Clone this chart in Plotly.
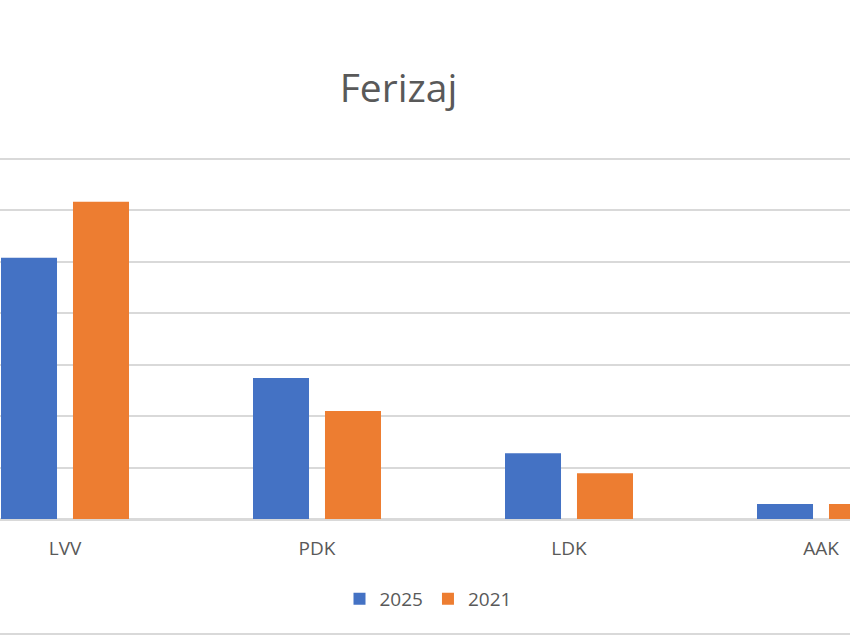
import plotly.graph_objects as go

categories = ["LVV", "PDK", "LDK", "AAK"]
series_2025 = [50.8, 27.4, 12.8, 2.9]
series_2021 = [61.7, 21.0, 8.9, 2.9]
series_names = ["2025", "2021"]
colors = ["#4472C4", "#ED7D31"]

fig = go.Figure()
for name, vals, col in zip(series_names, [series_2025, series_2021], colors):
    fig.add_trace(go.Bar(x=categories, y=vals, name=name, marker=dict(color=col, line=dict(width=0))))

W, H = 850, 636
top, bottom = 155, 519
ph = bottom - top
px_per_unit = 360 / 70
ymax = ph / px_per_unit
cx0 = 65

fig.update_layout(
    width=W, height=H,
    margin=dict(l=0, r=0, t=top, b=H - bottom, pad=0),
    paper_bgcolor="white", plot_bgcolor="white",
    barmode="group", bargap=0.4286, bargroupgap=0.222,
    font=dict(family="Open Sans", color="#595959", size=19),
    title=dict(text="Ferizaj", x=398.5 / W, xref="paper", xanchor="center",
               y=1 - 88 / H, yref="container", yanchor="middle",
               font=dict(size=39, color="#595959", family="Open Sans")),
    showlegend=True,
    legend=dict(orientation="h", x=428 / W, xanchor="center",
                y=(bottom - 599) / ph, yanchor="middle",
                font=dict(size=19, color="#595959"), itemwidth=30,
                traceorder="normal"),
    xaxis=dict(range=[-cx0 / 252, (W - cx0) / 252], automargin=False,
               showline=True, linecolor="#d9d9d9", linewidth=2,
               ticks="outside", ticklen=11, tickcolor="rgba(0,0,0,0)",
               tickfont=dict(size=19, color="#595959"), showgrid=False),
    yaxis=dict(range=[0, ymax], tickvals=[10, 20, 30, 40, 50, 60, 70], automargin=False,
               showticklabels=False,
               showgrid=True, gridcolor="#d9d9d9", gridwidth=2,
               zeroline=True, zerolinecolor="#d9d9d9", zerolinewidth=2),
    shapes=[dict(type="line", xref="paper", yref="paper", x0=0, x1=1,
                 y0=(bottom - 634) / ph, y1=(bottom - 634) / ph,
                 line=dict(color="#d9d9d9", width=2))],
)

fig.write_html("out.html", config={"displayModeBar": False},
               post_script="document.body.style.margin='0';document.body.style.overflow='hidden';")
